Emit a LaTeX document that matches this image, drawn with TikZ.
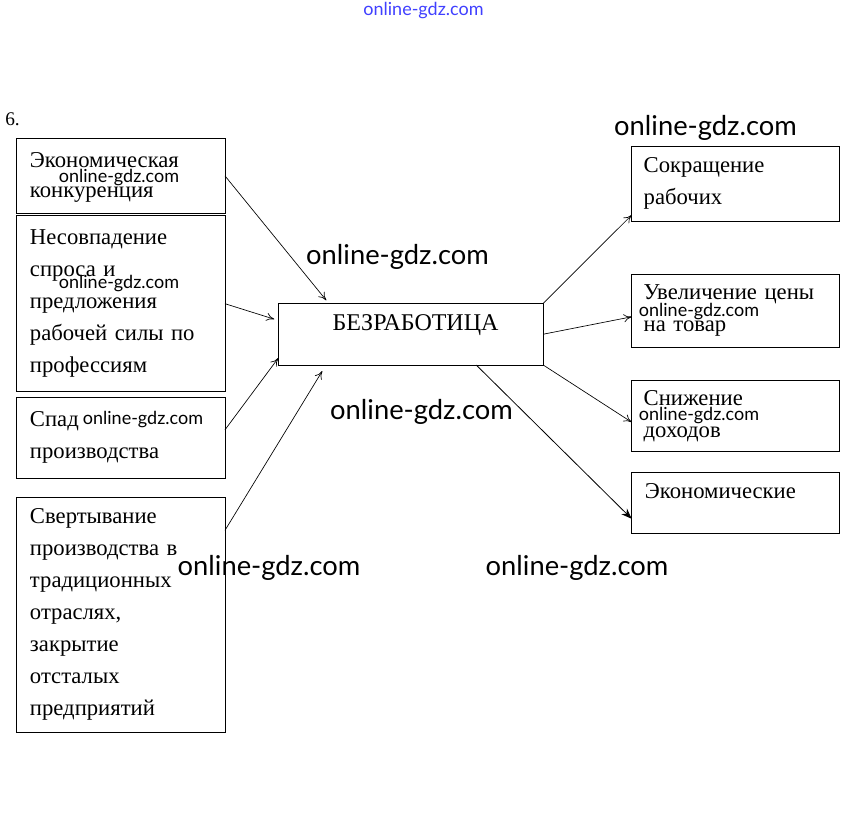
\documentclass[tikz,border=0pt]{standalone}
\usepackage{amsmath}
\usepackage{fontspec}
\setmainfont{Liberation Serif}
\newfontfamily\wmfont{Lato}
\usetikzlibrary{calc,arrows.meta}

\tikzset{
  lbox/.style={draw, line width=0.6pt, outer sep=0pt, minimum width=156.75pt,
    inner xsep=10.5pt, inner ysep=0pt, text width=135.75pt, align=left,
    font=\fontsize{17}{24}\selectfont},
  rbox/.style={draw, line width=0.6pt, outer sep=0pt, minimum width=155.7pt,
    inner xsep=9pt, inner ysep=0pt, text width=137.7pt, align=left,
    font=\fontsize{17}{24}\selectfont},
  wmbig/.style={inner sep=0.75pt, font=\wmfont\fontsize{20.5}{24}\selectfont},
  wmsmall/.style={inner sep=0.75pt, font=\wmfont\fontsize{13.5}{16}\selectfont},
  arr/.style={-{To[length=6pt,width=6pt]}, line width=0.5pt},
}

\begin{document}
\begin{tikzpicture}[x=0.75pt,y=0.75pt,yscale=-1,xscale=1]
    \useasboundingbox (0,0) rectangle (847,838);

    % Text Node
    \draw (5,126) node [anchor=base west][inner sep=0pt] (num) {\fontsize{14.5}{16}\selectfont 6.};

    %Shape: Rectangle (causes)
    \node [lbox, minimum height=56.1pt, font=\fontsize{17}{22.5}\selectfont] (k1) at (120.5,175.9) {\rule{0pt}{13pt}Экономическая\\конкуренция};
    \node [lbox, minimum height=132pt] (k2) at (120.5,303.7) {Несовпадение\\спроса и\\предложения\\рабочей силы по\\профессиям};
    \node [lbox, minimum height=60.75pt] (k3) at (120.5,437.8) {Спад\\производства};
    \node [lbox, minimum height=176.25pt] (k4) at (120.5,614.8) {Свертывание\\производства в\\традиционных\\отраслях,\\закрытие\\отсталых\\предприятий};

    %Shape: Rectangle (center)
    \node [draw, line width=0.6pt, outer sep=0pt, minimum width=198.75pt, minimum height=46.3pt] (bez) at (410.8,334.2) {};
    \draw (415.5,330) node [anchor=base][inner sep=0pt] (bezt) {\fontsize{18}{24}\selectfont БЕЗРАБОТИЦА};

    %Shape: Rectangle (consequences)
    \node [rbox, minimum height=55.7pt] (r1) at (735.5,183.9) {Сокращение\\рабочих};
    \node [rbox, minimum height=54.75pt] (r2) at (735.5,310.8) {Увеличение цены\\на товар};
    \node [rbox, minimum height=53.25pt] (r3) at (735.5,416.2) {Снижение\\доходов};
    \node [rbox, minimum height=45.75pt] (r4) at (735.5,502.8) {};
    \draw ($(r4.north west)+(13,26)$) node [anchor=base west][inner sep=0pt] (r4t) {\fontsize{17}{24}\selectfont Экономические};

    % Arrows
    \draw [arr] (k1.east) -- ($(bez.north west)+(48,-3)$);
    \draw [arr] (k2.east) -- ($(bez.west)+(-4,-15)$);
    \draw [arr] ($(k3.east)+(0,-8)$) -- ($(bez.south west)+(0,-7)$);
    \draw [arr] ($(k4.north east)+(0,33)$) -- ($(bez.south west)+(44,6)$);
    \draw [arr] (bez.north east) -- ($(r1.south west)+(0,-6)$);
    \draw [arr] (bez.east) -- ($(r2.west)+(0,6)$);
    \draw [arr] (bez.south east) -- ($(r3.west)+(0,6)$);
    \draw [-{Stealth[length=8pt,width=6pt]}, line width=0.6pt] ($(bez.south west)+(198,0)$) -- ($(r4.west)+(0,16)$);

    % Watermarks
    \draw (423.5,11) node [wmsmall, text=blue!75] (w0) {online-gdz.com};
    \draw (705.5,128) node [wmbig] (w1) {online-gdz.com};
    \draw (397.5,257) node [wmbig] (w2) {online-gdz.com};
    \draw (421.5,412) node [wmbig] (w3) {online-gdz.com};
    \draw (269,568) node [wmbig] (w4) {online-gdz.com};
    \draw (577,568) node [wmbig] (w5) {online-gdz.com};
    \draw (119,178) node [wmsmall] (w6) {online-gdz.com};
    \draw (119,284) node [wmsmall] (w7) {online-gdz.com};
    \draw (143,420) node [wmsmall] (w8) {online-gdz.com};
    \draw (699,312) node [wmsmall] (w9) {online-gdz.com};
    \draw (699,416) node [wmsmall] (w10) {online-gdz.com};

\end{tikzpicture}
\end{document}
